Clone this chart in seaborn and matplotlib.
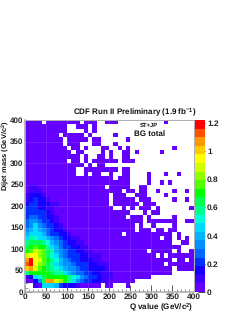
import numpy as np
import pandas as pd
import matplotlib
matplotlib.use("Agg")
import matplotlib.pyplot as plt
from matplotlib.colors import ListedColormap
import seaborn as sns

sns.set_theme(style="white")
plt.rcParams['font.family'] = ['Liberation Sans', 'DejaVu Sans']
plt.rcParams['font.weight'] = 'bold'
plt.rcParams['mathtext.default'] = 'regular'
plt.rcParams['text.hinting'] = 'no_hinting'

# one string per row, top row (390-400) first, 10 cols per group
# '.' = empty bin, 0-9 a-j = colour level of the z scale
bins = [
    "0000.00000 000.000..0 00........ ...0......",
    "0000000000 ..000.0... .......... ..........",
    "0000000000 ....0.0... .......... ..........",
    "00000000.0 0000.0.... .0........ ..........",
    "000000000. 00000.00.. ....0..... ..........",
    "000000000. 000...00.. .0........ ..........",
    "0000000000 .00.0...00 ..0.0..... .....0....",
    "0000000000 0.00....0. 0..00.0... ..0.......",
    "0000000000 000.0..00. 0..00..... ..........",
    "0000000000 .00.0.0000 00.000.... ..........",
    "0000000000 0000.0.00. .......... ..........",
    "0000000000 00..000000 00.00..... ..........",
    "0000000000 00..0.00.. 0..00....0 ...0..0...",
    "0000000000 0000000000 0.000....0 ..........",
    "0000000000 0000000000 00000....0 ..0.0.....",
    "0110000000 000000000. 00000..00. ..........",
    "0111000000 0000000000 000.00.00. .0...0..0.",
    "1222100000 0000000000 .000..000. ...0......",
    "1232210000 0000000000 .00000.000 .....0..0.",
    "2332221100 0000000000 .000000.00 0.........",
    "3332211000 0000000000 0..0.0.000 .0.......0",
    "3333321000 0000000000 00000...0. 00........",
    "3443322100 0000000000 0000.000.0 .....0....",
    "4554332100 0000000000 00000000.0 000000..00",
    "4575433210 0000000000 000000.0.. 0....0....",
    "5676543221 0000000000 000000.000 .00.00....",
    "6777643322 1000000000 000.000000 00000.0...",
    "7987765432 2110000000 0000000000 00.00.0.0.",
    "9aaa986543 2211000000 0000000000 00000..00.",
    "abcbb97643 3221100000 0000000000 0000000...",
    "bcedca9654 3322110000 000000000. 00000.0..0",
    "effdca8754 3332211100 0000000000 0.0.000000",
    "hjfecb9865 4332221100 0000000000 00000.00.0",
    "ijfdca9765 5433322111 0000000000 000.000000",
    "ghecba9876 5543322221 0000000000 00000.0000",
    "9bbbbba997 6544332211 1000000000 00000.....",
    "1278abbbbb 9875433211 1000000000 ..........",
    "0025ahhedb 9754332211 000000.... ..........",
    "..10777632 22100000.0 0...0..... ..........",
    ".......... .......... .......... ..........",
]
level_codes = "0123456789abcdefghij"
level_colors = ["#6400ff", "#4000ff", "#1800ff", "#0030ff", "#0068ff", "#0090ff",
                "#00b4ff", "#00dcff", "#00ffd8", "#00ff90", "#00ff50", "#00ff00",
                "#50ff00", "#90ff00", "#d0ff00", "#ffff00", "#ffcc00", "#ff9900",
                "#ff5000", "#ff0000"]
z_step = 0.061
z_ticks = [0, 0.2, 0.4, 0.6, 0.8, 1, 1.2]
z_labels = ["0", "0.2", "0.4", "0.6", "0.8", "1", "1.2"]
q_ticks = [0, 50, 100, 150, 200, 250, 300, 350, 400]
m_ticks = [0, 50, 100, 150, 200, 250, 300, 350, 400]
bin_width = 10

rows = []
for b in bins:
    b = b.replace(" ", "")
    rows.append([np.nan if c == "." else (level_codes.index(c) + 0.5) * z_step for c in b])
df = pd.DataFrame(rows)

W, H = 243, 314
fig = plt.figure(figsize=(W / 100, H / 100), dpi=100, facecolor="white")


def box(x0, y0, x1, y1):
    return [x0 / W, 1 - y1 / H, (x1 - x0) / W, (y1 - y0) / H]


ax = fig.add_axes(box(25, 120, 193.5, 292))
cax = fig.add_axes(box(195, 120, 205, 292))
sns.heatmap(df, ax=ax, cbar_ax=cax, cmap=ListedColormap(level_colors), vmin=0, vmax=20 * z_step,
            xticklabels=False, yticklabels=False, cbar_kws={"ticks": z_ticks})

# faint grid every 50
for v in q_ticks[1:-1]:
    ax.axvline(v / bin_width, color="white", alpha=0.12, lw=0.7)
for v in m_ticks[1:-1]:
    ax.axhline(40 - v / bin_width, color="white", alpha=0.12, lw=0.7)

ax.set_xticks([v / bin_width for v in q_ticks])
ax.set_xticklabels(q_ticks, fontsize=6)
ax.set_yticks([40 - v / bin_width for v in m_ticks])
ax.set_yticklabels(m_ticks, fontsize=5.8, rotation=0)
ax.set_xticks(np.arange(0, 41, 1), minor=True)
ax.set_yticks(np.arange(0, 41, 1), minor=True)
ax.tick_params(which="major", direction="in", length=5, width=0.6, color="#222222", pad=1,
               left=True, bottom=True)
ax.tick_params(which="minor", direction="in", length=2.5, width=0.4, color="#444444",
               left=True, bottom=True)
for s in ax.spines.values():
    s.set_visible(True)
    s.set_color("#b0b0b0")
    s.set_linewidth(0.7)
ax.spines["left"].set_linewidth(1.2)
ax.spines["bottom"].set_linewidth(1.2)

cax.set_yticklabels(z_labels, fontsize=6)
cax.tick_params(axis="y", direction="in", length=5, width=0.6, color="#222222", pad=1.5, right=True)
for s in cax.spines.values():
    s.set_visible(False)


def px_text(x, y, s, **kw):
    fig.text(x / W, 1 - y / H, s, color="#111111", **kw)


px_text(196, 112, "CDF Run II Preliminary (1.9 fb$^{-1}$)", ha="right", va="center", fontsize=5.8)
px_text(149, 125.5, "ST+JP", ha="center", va="center", fontsize=4.2)
px_text(150, 133.5, "BG total", ha="center", va="center", fontsize=5.8)
px_text(193.5, 307, "Q value (GeV/c$^{2}$)", ha="right", va="center", fontsize=5.8)
px_text(5, 120, "Dijet mass (GeV/c$^{2}$)", ha="center", va="top", fontsize=5.4, rotation=90)

fig.savefig("out.png", dpi=100)
